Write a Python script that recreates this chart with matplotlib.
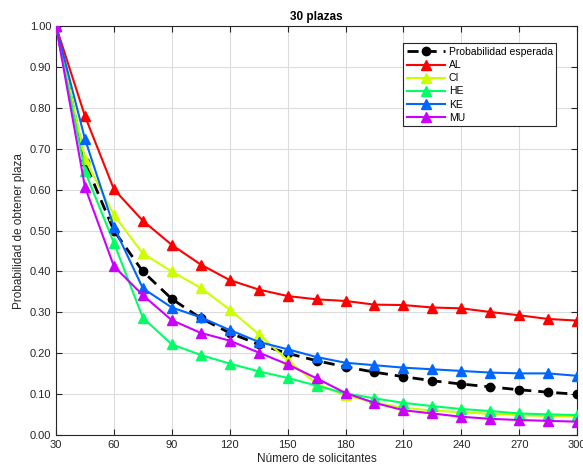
import matplotlib
matplotlib.use("Agg")
import matplotlib.pyplot as plt
import colorsys

plt.rcParams['font.family'] = ['Liberation Sans', 'DejaVu Sans']

n_solicitantes = [30, 45, 60, 75, 90, 105, 120, 135, 150, 165, 180, 195, 210, 225, 240, 255, 270, 285, 300]
esperada = [1.0, 0.667, 0.5, 0.4, 0.333, 0.286, 0.25, 0.222, 0.2, 0.182, 0.167, 0.154, 0.143, 0.133, 0.125, 0.118, 0.111, 0.105, 0.1]
AL = [1.0, 0.78, 0.601, 0.524, 0.465, 0.417, 0.379, 0.356, 0.340, 0.332, 0.328, 0.319, 0.318, 0.312, 0.310, 0.301, 0.293, 0.284, 0.280]
CI = [1.0, 0.675, 0.538, 0.444, 0.400, 0.360, 0.307, 0.247, 0.183, 0.126, 0.097, 0.080, 0.067, 0.060, 0.056, 0.052, 0.049, 0.047, 0.046]
HE = [1.0, 0.645, 0.470, 0.287, 0.222, 0.196, 0.175, 0.156, 0.140, 0.121, 0.102, 0.090, 0.079, 0.071, 0.064, 0.059, 0.053, 0.051, 0.049]
KE = [1.0, 0.724, 0.509, 0.359, 0.312, 0.288, 0.257, 0.228, 0.210, 0.191, 0.177, 0.171, 0.165, 0.161, 0.157, 0.153, 0.151, 0.151, 0.145]
MU = [1.0, 0.607, 0.413, 0.342, 0.281, 0.250, 0.231, 0.202, 0.173, 0.139, 0.103, 0.079, 0.061, 0.053, 0.045, 0.040, 0.037, 0.035, 0.033]

series_names = ['AL', 'CI', 'HE', 'KE', 'MU']
series = [AL, CI, HE, KE, MU]
colors = [colorsys.hsv_to_rgb(i / 5, 1, 1) for i in range(5)]

x_ticks = list(range(30, 301, 30))
y_ticks = [i / 10 for i in range(11)]

fig = plt.figure(figsize=(5.83, 4.72), dpi=100)
ax = fig.add_axes([0.096, 0.078, 0.894, 0.867])

ax.plot(n_solicitantes, esperada, color='black', linestyle='--', linewidth=2,
        marker='o', markersize=6, label='Probabilidad esperada', dashes=(4, 2.5), zorder=3)
for name, vals, c in zip(series_names, series, colors):
    ax.plot(n_solicitantes, vals, color=c, linewidth=1.5, marker='^', markersize=6.5,
            label=name, zorder=3)

ax.set_xlim(30, 300)
ax.set_ylim(0, 1)
ax.set_xticks(x_ticks)
ax.set_yticks(y_ticks)
ax.set_yticklabels([f"{v:.2f}" for v in y_ticks])
ax.grid(True, color='#dcdcdc', linewidth=0.8)
ax.set_axisbelow(True)
ax.tick_params(direction='in', top=True, right=True, labelsize=8, colors='#262626', length=4)
for s in ax.spines.values():
    s.set_color('#262626')
    s.set_linewidth(0.8)

ax.set_title('30 plazas', fontsize=8.5, fontweight='bold', pad=4)
ax.set_xlabel('Número de solicitantes', fontsize=8.5, color='#262626', labelpad=2)
ax.set_ylabel('Probabilidad de obtener plaza', fontsize=8.5, color='#262626', labelpad=3)

leg = ax.legend(loc='upper right', bbox_to_anchor=(0.97, 0.97), fontsize=7.5, handlelength=3.6,
                borderpad=0.35, labelspacing=0.3, handletextpad=0.4, fancybox=False, framealpha=1)
leg.get_frame().set_edgecolor('#262626')
leg.get_frame().set_linewidth(0.8)

fig.savefig('out.png', dpi=100)
